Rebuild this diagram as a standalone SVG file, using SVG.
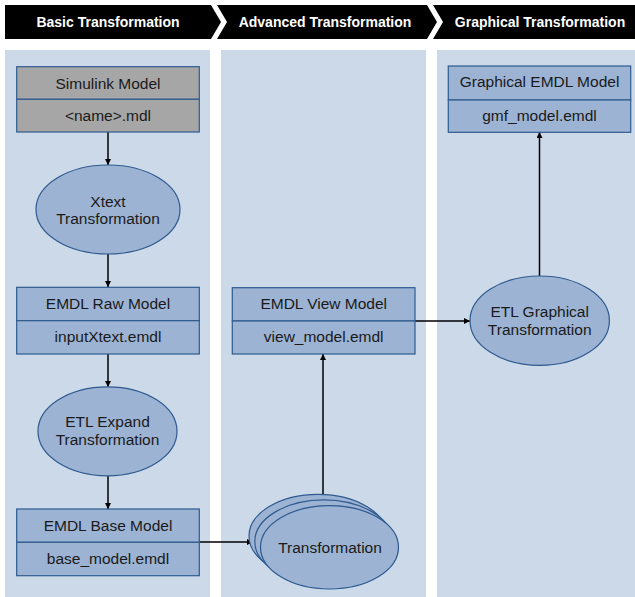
<svg xmlns="http://www.w3.org/2000/svg" width="635" height="597" viewBox="0 0 635 597">
<style>
.hdr{fill:#000}
.htxt{font-family:"Liberation Sans",Arial,sans-serif;font-size:14px;font-weight:bold;fill:#fff;text-anchor:middle}
.panel{fill:#cbd9e9}
.box{fill:#9cb3d3;stroke:#2f5a8f;stroke-width:1.2}
.gray{fill:#a6a6a6;stroke:#2f5a8f;stroke-width:1.2}
.ell{fill:#9cb3d3;stroke:#2f5a8f;stroke-width:1.2}
.t{font-family:"Liberation Sans",Arial,sans-serif;font-size:15.5px;fill:#1a1a1a;text-anchor:middle}
.c{fill:none;stroke:#000;stroke-width:1.5;marker-end:url(#ah)}
</style>
<defs>
<marker id="ah" viewBox="0 0 10 10" refX="10" refY="5" markerWidth="6" markerHeight="6" markerUnits="userSpaceOnUse" orient="auto">
<path d="M0,0 L10,5 L0,10 z" fill="#000"/>
</marker>
</defs>
<rect width="635" height="597" fill="#fff"/>
<g id="header">
<polygon class="hdr" points="5,5 211,5 221,22 211,39 5,39"/>
<polygon class="hdr" points="217,5 427,5 437,22 427,39 217,39 227,22"/>
<polygon class="hdr" points="433,5 635,5 635,39 433,39 443,22"/>
<text class="htxt" x="108" y="27">Basic Transformation</text>
<text class="htxt" x="325" y="27">Advanced Transformation</text>
<text class="htxt" x="540" y="27">Graphical Transformation</text>
</g>
<g id="panels">
<rect class="panel" x="5" y="50" width="205" height="547"/>
<rect class="panel" x="221" y="50" width="205" height="547"/>
<rect class="panel" x="437" y="50" width="198" height="547"/>
</g>
<g id="connectors">
<line class="c" x1="108" y1="132" x2="108" y2="165"/>
<line class="c" x1="108" y1="254" x2="108" y2="287"/>
<line class="c" x1="108" y1="354" x2="108" y2="387"/>
<line class="c" x1="108" y1="476" x2="108" y2="509"/>
<line class="c" x1="199" y1="542" x2="253" y2="542"/>
<line class="c" x1="323" y1="495" x2="323" y2="354"/>
<line class="c" x1="415" y1="321" x2="470" y2="321"/>
<line class="c" x1="539.5" y1="276" x2="539.5" y2="132"/>
</g>
<g id="simulink">
<rect class="gray" x="16.7" y="66.7" width="182.6" height="32.6"/>
<rect class="gray" x="16.7" y="99.3" width="182.6" height="32.7"/>
<text class="t" x="108" y="88.5">Simulink Model</text>
<text class="t" x="108" y="121">&lt;name&gt;.mdl</text>
</g>
<g id="xtext">
<ellipse class="ell" cx="108" cy="209.5" rx="72" ry="44.5"/>
<text class="t" x="108" y="206.5">Xtext</text>
<text class="t" x="108" y="224">Transformation</text>
</g>
<g id="raw">
<rect class="box" x="16.7" y="287.3" width="182.6" height="33.4"/>
<rect class="box" x="16.7" y="320.7" width="182.6" height="33.3"/>
<text class="t" x="108" y="308.5">EMDL Raw Model</text>
<text class="t" x="108" y="342">inputXtext.emdl</text>
</g>
<g id="expand">
<ellipse class="ell" cx="107.5" cy="431.3" rx="69.5" ry="44.5"/>
<text class="t" x="107.5" y="427">ETL Expand</text>
<text class="t" x="107.5" y="445">Transformation</text>
</g>
<g id="base">
<rect class="box" x="16.7" y="509" width="182.6" height="33.3"/>
<rect class="box" x="16.7" y="542.3" width="182.6" height="33.4"/>
<text class="t" x="108" y="530.5">EMDL Base Model</text>
<text class="t" x="108" y="564">base_model.emdl</text>
</g>
<g id="transformation">
<ellipse class="ell" cx="318" cy="536" rx="69" ry="41.7"/>
<ellipse class="ell" cx="323.8" cy="541.6" rx="69" ry="41.7"/>
<ellipse class="ell" cx="329.5" cy="547.3" rx="69" ry="41.7"/>
<text class="t" x="330" y="552.5">Transformation</text>
</g>
<g id="view">
<rect class="box" x="232.3" y="287.7" width="182.7" height="33.3"/>
<rect class="box" x="232.3" y="321" width="182.7" height="33"/>
<text class="t" x="323.7" y="309">EMDL View Model</text>
<text class="t" x="323.7" y="342">view_model.emdl</text>
</g>
<g id="graphical-transformation">
<ellipse class="ell" cx="539.7" cy="320.7" rx="69.7" ry="44.7"/>
<text class="t" x="539.7" y="316.5">ETL Graphical</text>
<text class="t" x="539.7" y="335">Transformation</text>
</g>
<g id="graphical-model">
<rect class="box" x="448.3" y="66" width="182.4" height="34"/>
<rect class="box" x="448.3" y="100" width="182.4" height="32.3"/>
<text class="t" x="539.5" y="87">Graphical EMDL Model</text>
<text class="t" x="539.5" y="121">gmf_model.emdl</text>
</g>
</svg>
